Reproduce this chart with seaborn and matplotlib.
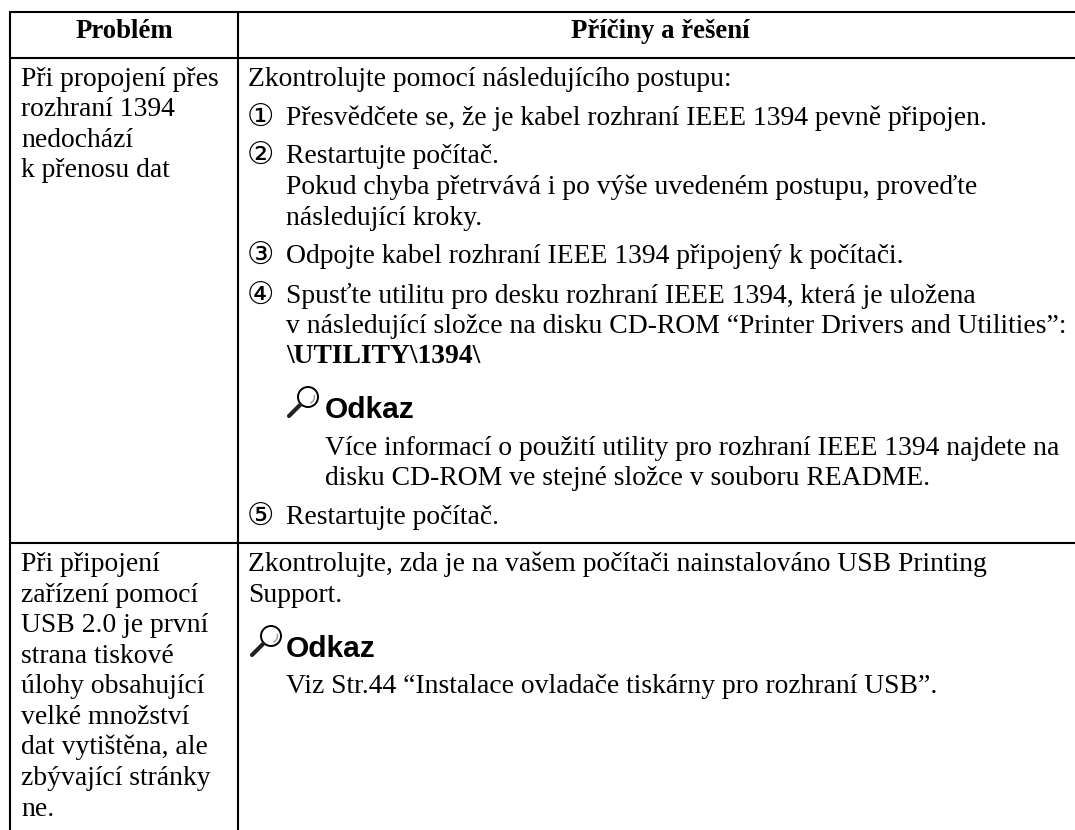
import matplotlib
matplotlib.use("Agg")
import matplotlib.pyplot as plt
from matplotlib.patches import Arc, Circle
import seaborn as sns

# table content
headers = ["Problém", "Příčiny a řešení"]
problem_1 = ["Při propojení přes", "rozhraní 1394", "nedochází", "k přenosu dat"]
problem_2 = ["Při připojení", "zařízení pomocí", "USB 2.0 je první", "strana tiskové",
             "úlohy obsahující", "velké množství", "dat vytištěna, ale",
             "zbývající stránky", "ne."]
intro_1 = "Zkontrolujte pomocí následujícího postupu:"
# (circled number or "", text, bold?)
steps_1 = [
    ("①", "Přesvědčete se, že je kabel rozhraní IEEE 1394 pevně připojen.", False),
    ("②", "Restartujte počítač.", False),
    ("", "Pokud chyba přetrvává i po výše uvedeném postupu, proveďte", False),
    ("", "následující kroky.", False),
    ("③", "Odpojte kabel rozhraní IEEE 1394 připojený k počítači.", False),
    ("④", "Spusťte utilitu pro desku rozhraní IEEE 1394, která je uložena", False),
    ("", "v následující složce na disku CD-ROM “Printer Drivers and Utilities”:", False),
    ("", "\\UTILITY\\1394\\", True),
]
note_1 = ["Více informací o použití utility pro rozhraní IEEE 1394 najdete na",
          "disku CD-ROM ve stejné složce v souboru README."]
last_step = ("⑤", "Restartujte počítač.")
solution_2 = ["Zkontrolujte, zda je na vašem počítači nainstalováno USB Printing", "Support."]
note_2 = ["Viz Str.44 “Instalace ovladače tiskárny pro rozhraní USB”."]
note_title = "Odkaz"

# baselines in pixels
problem_1_y = [86, 116, 147, 177]
problem_2_y = [571, 602, 632, 663, 693, 724, 754, 785, 816]
steps_1_y = [125, 163, 194, 225, 263, 303, 333, 363]
note_1_y = [455, 485]
last_step_y = 524
solution_2_y = [571, 602]
note_2_y = [693]

sns.set_theme(style="white")
plt.rcParams["font.family"] = ["Liberation Serif", "DejaVu Sans"]
plt.rcParams["text.color"] = "black"

fig = plt.figure(figsize=(10.75, 8.3), dpi=100)
ax = fig.add_axes([0, 0, 1, 1])
ax.set_xlim(0, 1075)
ax.set_ylim(830, 0)
ax.axis("off")

# grid lines, the table runs off the right edge
ax.hlines([12.5, 58, 542.5], 9, 1075, color="black", lw=1.5)
ax.vlines([10, 238], 12, 830, color="black", lw=1.5)

FS = 19.9
NUM_FS = 22
COL1 = 21
COL2 = 248
STEP = 286
NOTE = 325

ax.text(124, 38, headers[0], ha="center", va="baseline", fontsize=19.3, fontweight="bold")
ax.text(660, 38, headers[1], ha="center", va="baseline", fontsize=19.3, fontweight="bold")

for s, y in zip(problem_1, problem_1_y):
    ax.text(COL1, y, s, va="baseline", fontsize=FS)
for s, y in zip(problem_2, problem_2_y):
    ax.text(COL1, y, s, va="baseline", fontsize=FS)

ax.text(COL2, 86, intro_1, va="baseline", fontsize=FS)
for (num, s, bold), y in zip(steps_1, steps_1_y):
    if num:
        ax.text(COL2 - 1, y + 1, num, va="baseline", fontsize=NUM_FS, family="DejaVu Sans")
    ax.text(STEP, y, s, va="baseline", fontsize=FS, fontweight="bold" if bold else "normal")
for s, y in zip(note_1, note_1_y):
    ax.text(NOTE, y, s, va="baseline", fontsize=FS)
ax.text(COL2 - 1, last_step_y + 1, last_step[0], va="baseline", fontsize=NUM_FS, family="DejaVu Sans")
ax.text(STEP, last_step_y, last_step[1], va="baseline", fontsize=FS)
for s, y in zip(solution_2, solution_2_y):
    ax.text(COL2, y, s, va="baseline", fontsize=FS)
for s, y in zip(note_2, note_2_y):
    ax.text(STEP, y, s, va="baseline", fontsize=FS)


def magnifier(x, y):
    # lens, glint and handle of the note icon
    ax.add_patch(Circle((x + 21, y - 21), 10, fill=False, ec="black", lw=1.4))
    ax.add_patch(Arc((x + 21, y - 21), 13, 13, theta1=-20, theta2=70, ec="#999999", lw=1))
    ax.plot([x + 13, x + 2], [y - 13, y - 2], color="#222222", lw=3, solid_capstyle="round")


for x, y, tx in [(287, 418, NOTE), (250, 657, STEP)]:
    magnifier(x, y)
    ax.text(tx, y, note_title, va="baseline", fontsize=21.5, fontweight="bold",
            family="Liberation Sans")

fig.savefig("out.png", dpi=100)
